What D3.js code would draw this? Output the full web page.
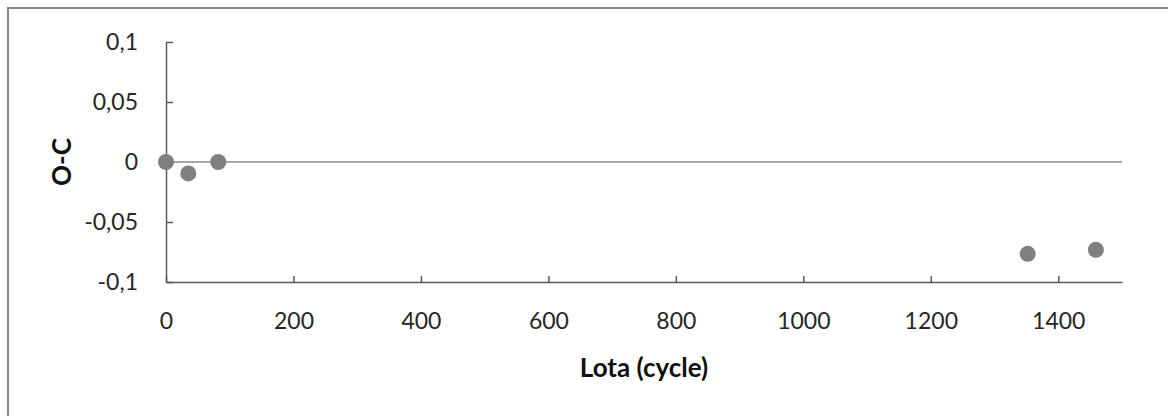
<!DOCTYPE html>
<html>
<head>
<meta charset="utf-8">
<script src="https://cdn.jsdelivr.net/npm/d3@7"></script>
<style>
  html, body { margin:0; padding:0; background:#fff; }
  svg { display:block; }
</style>
</head>
<body>
<script>
// data
const cycles = [0, 35, 82, 1352, 1459];
const oc     = [0, -0.0095, 0, -0.0765, -0.0732];
const xTicks = [0, 200, 400, 600, 800, 1000, 1200, 1400];
const yTicks = [-0.1, -0.05, 0, 0.05, 0.1];
const xTitle = "Lota (cycle)";
const yTitle = "O-C";

const W = 1168, H = 416;
const margin = { top:42, right:46, bottom:134, left:166 };
const FONT = "Lato, 'Open Sans', sans-serif";

const svg = d3.select("body").append("svg")
  .attr("width", W).attr("height", H)
  .attr("font-family", FONT);

// outer chart frame (right and bottom edges fall outside the picture)
svg.append("rect")
  .attr("x", 8).attr("y", 8)
  .attr("width", W + 20).attr("height", H + 20)
  .attr("fill", "none").attr("stroke", "#888").attr("stroke-width", 2);

const x = d3.scaleLinear([0, 1500], [margin.left, W - margin.right]);
const y = d3.scaleLinear([-0.1, 0.1], [H - margin.bottom, margin.top]);

const fmt = d => d === 0 ? "0" : String(d).replace(".", ",");

// zero line
svg.append("line")
  .attr("x1", x(0)).attr("x2", x(1500))
  .attr("y1", y(0)).attr("y2", y(0))
  .attr("stroke", "#a6a6a6").attr("stroke-width", 2);

function axisStyling(g){
  g.attr("font-family", FONT).attr("font-size", 23);
  g.select(".domain").attr("stroke", "#595959").attr("stroke-width", 1.5);
  g.selectAll(".tick line").attr("stroke", "#595959").attr("stroke-width", 1.5);
  g.selectAll("text").attr("fill", "#262626");
}

// x axis (ticks point up, into the plot)
svg.append("g")
  .attr("transform", `translate(0,${y(-0.1)})`)
  .call(d3.axisBottom(x).tickValues(xTicks).tickSizeInner(-6).tickSizeOuter(0)
        .tickPadding(31).tickFormat(d3.format("d")))
  .call(axisStyling);

// y axis (ticks point right)
svg.append("g")
  .attr("transform", `translate(${x(0)},0)`)
  .call(d3.axisLeft(y).tickValues(yTicks).tickSizeInner(-7).tickSizeOuter(0)
        .tickPadding(28).tickFormat(fmt))
  .call(axisStyling);

// points
svg.append("g").selectAll("circle")
  .data(cycles.map((c, i) => ({ c, v: oc[i] })))
  .join("circle")
    .attr("cx", d => x(d.c))
    .attr("cy", d => y(d.v))
    .attr("r", 8)
    .attr("fill", "#7f7f7f");

// axis titles
svg.append("text")
  .attr("x", (x(0) + x(1500)) / 2).attr("y", 377)
  .attr("text-anchor", "middle")
  .attr("font-size", 26).attr("font-weight", "bold").attr("fill", "#111")
  .text(xTitle);

svg.append("text")
  .attr("transform", `translate(71,${y(0)}) rotate(-90)`)
  .attr("text-anchor", "middle")
  .attr("font-size", 26).attr("font-weight", "bold").attr("fill", "#111")
  .text(yTitle);
</script>
</body>
</html>
